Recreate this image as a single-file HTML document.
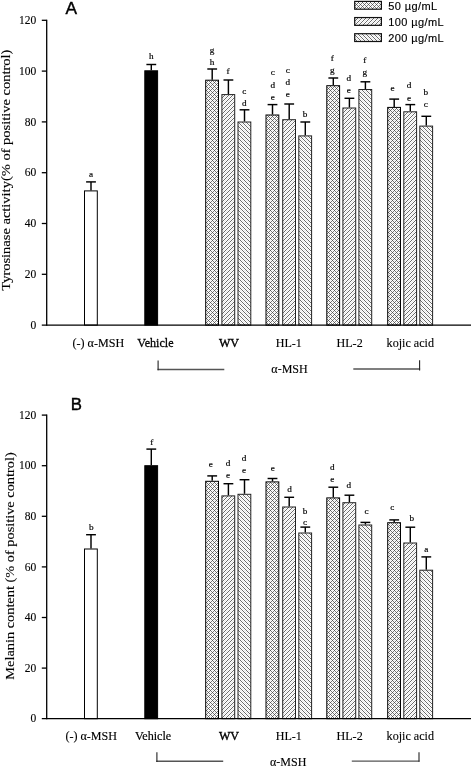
<!DOCTYPE html>
<html><head><meta charset="utf-8"><title>Figure</title>
<style>html,body{margin:0;padding:0;background:#fff}svg{display:block;will-change:transform}.s{font-family:"Liberation Serif", serif;fill:#000;stroke:#000;stroke-width:0.12px}.n{font-family:"Liberation Sans", sans-serif;fill:#000;stroke:#000;stroke-width:0.15px}</style></head><body>
<svg width="471" height="767" viewBox="0 0 471 767">
<defs>
<pattern id="pf" width="4" height="4" patternUnits="userSpaceOnUse"><path d="M3.00,-1 L-1,3.00 M7.00,-1 L-1,7.00" stroke="#d6d6d6" stroke-width="0.6" fill="none"/><path d="M1.00,-1 L-1,1.00 M5.00,-1 L-1,5.00 M9.00,-1 L-1,9.00" stroke="#585858" stroke-width="0.88" fill="none"/></pattern>
<pattern id="pb" width="4" height="4" patternUnits="userSpaceOnUse"><path d="M-1,1.00 L5.00,7.00 M-1,-3.00 L5.00,3.00" stroke="#d6d6d6" stroke-width="0.6" fill="none"/><path d="M-1,-1.00 L5.00,5.00 M-1,3.00 L5.00,9.00 M-1,-5.00 L5.00,1.00" stroke="#585858" stroke-width="0.88" fill="none"/></pattern>
<pattern id="px" width="4" height="4" patternUnits="userSpaceOnUse"><path d="M4.00,-1 L-1,4.00 M8.00,-1 L-1,8.00 M-1,1.00 L5.00,7.00 M-1,-3.00 L5.00,3.00" stroke="#e6e6e6" stroke-width="0.65" fill="none"/><path d="M2.00,-1 L-1,2.00 M6.00,-1 L-1,6.00 M-1,-1.00 L5.00,5.00 M-1,3.00 L5.00,9.00 M-1,-5.00 L5.00,1.00" stroke="#3a3a3a" stroke-width="0.65" fill="none"/></pattern>
</defs>
<rect width="471" height="767" fill="#fff"/>
<text x="65.6" y="14" font-size="17.3" class="n" style="stroke-width:0.4px">A</text>
<text x="70.8" y="410" font-size="16.8" class="n" style="stroke-width:0.4px">B</text>
<rect x="354.7" y="1.40" width="26.7" height="7.8" fill="url(#px)" stroke="#111" stroke-width="1.2"/>
<text x="388.3" y="10.20" font-size="11" letter-spacing="0.4" class="n">50 µg/mL</text>
<rect x="354.7" y="17.55" width="26.7" height="7.8" fill="url(#pf)" stroke="#111" stroke-width="1.2"/>
<text x="388.3" y="26.30" font-size="11" letter-spacing="0.4" class="n">100 µg/mL</text>
<rect x="354.7" y="33.70" width="26.7" height="7.8" fill="url(#pb)" stroke="#111" stroke-width="1.2"/>
<text x="388.3" y="42.40" font-size="11" letter-spacing="0.4" class="n">200 µg/mL</text>
<line x1="91.00" y1="181.90" x2="91.00" y2="190.40" stroke="#000" stroke-width="1.45"/>
<line x1="86.10" y1="181.90" x2="95.90" y2="181.90" stroke="#000" stroke-width="1.45"/>
<rect x="84.50" y="190.90" width="12.80" height="134.20" fill="#fff" stroke="#000" stroke-width="1"/>
<text x="91.00" y="177.20" font-size="9.2" text-anchor="middle" class="s" style="stroke-width:0.18px">a</text>
<line x1="151.30" y1="64.50" x2="151.30" y2="70.30" stroke="#000" stroke-width="1.45"/>
<line x1="146.40" y1="64.50" x2="156.20" y2="64.50" stroke="#000" stroke-width="1.45"/>
<rect x="144.80" y="70.80" width="12.80" height="254.30" fill="#000" stroke="#000" stroke-width="1"/>
<text x="151.30" y="58.90" font-size="9.2" text-anchor="middle" class="s" style="stroke-width:0.18px">h</text>
<line x1="212.20" y1="69.00" x2="212.20" y2="79.70" stroke="#000" stroke-width="1.45"/>
<line x1="207.30" y1="69.00" x2="217.10" y2="69.00" stroke="#000" stroke-width="1.45"/>
<rect x="205.70" y="80.20" width="12.80" height="244.90" fill="#fff"/>
<rect x="205.70" y="80.20" width="12.80" height="244.90" fill="url(#px)" stroke="#000" stroke-width="1"/>
<text x="212.00" y="52.90" font-size="9.2" text-anchor="middle" class="s" style="stroke-width:0.18px">g</text>
<text x="212.00" y="64.50" font-size="9.2" text-anchor="middle" class="s" style="stroke-width:0.18px">h</text>
<line x1="228.40" y1="80.00" x2="228.40" y2="94.10" stroke="#000" stroke-width="1.45"/>
<line x1="223.50" y1="80.00" x2="233.30" y2="80.00" stroke="#000" stroke-width="1.45"/>
<rect x="221.90" y="94.60" width="12.80" height="230.50" fill="#fff"/>
<rect x="221.90" y="94.60" width="12.80" height="230.50" fill="url(#pf)" stroke="#222" stroke-width="1"/>
<text x="228.00" y="73.80" font-size="9.2" text-anchor="middle" class="s" style="stroke-width:0.18px">f</text>
<line x1="244.50" y1="109.80" x2="244.50" y2="121.50" stroke="#000" stroke-width="1.45"/>
<line x1="239.60" y1="109.80" x2="249.40" y2="109.80" stroke="#000" stroke-width="1.45"/>
<rect x="238.00" y="122.00" width="12.80" height="203.10" fill="#fff"/>
<rect x="238.00" y="122.00" width="12.80" height="203.10" fill="url(#pb)" stroke="#222" stroke-width="1"/>
<text x="244.30" y="93.50" font-size="9.2" text-anchor="middle" class="s" style="stroke-width:0.18px">c</text>
<text x="244.30" y="105.60" font-size="9.2" text-anchor="middle" class="s" style="stroke-width:0.18px">d</text>
<line x1="272.50" y1="104.60" x2="272.50" y2="114.50" stroke="#000" stroke-width="1.45"/>
<line x1="267.60" y1="104.60" x2="277.40" y2="104.60" stroke="#000" stroke-width="1.45"/>
<rect x="266.00" y="115.00" width="12.80" height="210.10" fill="#fff"/>
<rect x="266.00" y="115.00" width="12.80" height="210.10" fill="url(#px)" stroke="#000" stroke-width="1"/>
<text x="272.80" y="75.30" font-size="9.2" text-anchor="middle" class="s" style="stroke-width:0.18px">c</text>
<text x="272.80" y="87.80" font-size="9.2" text-anchor="middle" class="s" style="stroke-width:0.18px">d</text>
<text x="272.80" y="99.50" font-size="9.2" text-anchor="middle" class="s" style="stroke-width:0.18px">e</text>
<line x1="289.20" y1="104.00" x2="289.20" y2="119.20" stroke="#000" stroke-width="1.45"/>
<line x1="284.30" y1="104.00" x2="294.10" y2="104.00" stroke="#000" stroke-width="1.45"/>
<rect x="282.70" y="119.70" width="12.80" height="205.40" fill="#fff"/>
<rect x="282.70" y="119.70" width="12.80" height="205.40" fill="url(#pf)" stroke="#222" stroke-width="1"/>
<text x="287.90" y="72.70" font-size="9.2" text-anchor="middle" class="s" style="stroke-width:0.18px">c</text>
<text x="287.90" y="84.80" font-size="9.2" text-anchor="middle" class="s" style="stroke-width:0.18px">d</text>
<text x="287.90" y="96.90" font-size="9.2" text-anchor="middle" class="s" style="stroke-width:0.18px">e</text>
<line x1="305.30" y1="122.00" x2="305.30" y2="135.40" stroke="#000" stroke-width="1.45"/>
<line x1="300.40" y1="122.00" x2="310.20" y2="122.00" stroke="#000" stroke-width="1.45"/>
<rect x="298.80" y="135.90" width="12.80" height="189.20" fill="#fff"/>
<rect x="298.80" y="135.90" width="12.80" height="189.20" fill="url(#pb)" stroke="#222" stroke-width="1"/>
<text x="305.00" y="117.00" font-size="9.2" text-anchor="middle" class="s" style="stroke-width:0.18px">b</text>
<line x1="333.30" y1="78.00" x2="333.30" y2="85.20" stroke="#000" stroke-width="1.45"/>
<line x1="328.40" y1="78.00" x2="338.20" y2="78.00" stroke="#000" stroke-width="1.45"/>
<rect x="326.80" y="85.70" width="12.80" height="239.40" fill="#fff"/>
<rect x="326.80" y="85.70" width="12.80" height="239.40" fill="url(#px)" stroke="#000" stroke-width="1"/>
<text x="332.20" y="61.40" font-size="9.2" text-anchor="middle" class="s" style="stroke-width:0.18px">f</text>
<text x="332.20" y="72.80" font-size="9.2" text-anchor="middle" class="s" style="stroke-width:0.18px">g</text>
<line x1="349.40" y1="98.30" x2="349.40" y2="107.50" stroke="#000" stroke-width="1.45"/>
<line x1="344.50" y1="98.30" x2="354.30" y2="98.30" stroke="#000" stroke-width="1.45"/>
<rect x="342.90" y="108.00" width="12.80" height="217.10" fill="#fff"/>
<rect x="342.90" y="108.00" width="12.80" height="217.10" fill="url(#pf)" stroke="#222" stroke-width="1"/>
<text x="348.80" y="80.80" font-size="9.2" text-anchor="middle" class="s" style="stroke-width:0.18px">d</text>
<text x="348.80" y="92.60" font-size="9.2" text-anchor="middle" class="s" style="stroke-width:0.18px">e</text>
<line x1="365.40" y1="81.80" x2="365.40" y2="89.00" stroke="#000" stroke-width="1.45"/>
<line x1="360.50" y1="81.80" x2="370.30" y2="81.80" stroke="#000" stroke-width="1.45"/>
<rect x="358.90" y="89.50" width="12.80" height="235.60" fill="#fff"/>
<rect x="358.90" y="89.50" width="12.80" height="235.60" fill="url(#pb)" stroke="#222" stroke-width="1"/>
<text x="364.70" y="63.30" font-size="9.2" text-anchor="middle" class="s" style="stroke-width:0.18px">f</text>
<text x="364.70" y="75.00" font-size="9.2" text-anchor="middle" class="s" style="stroke-width:0.18px">g</text>
<line x1="394.20" y1="99.10" x2="394.20" y2="106.90" stroke="#000" stroke-width="1.45"/>
<line x1="389.30" y1="99.10" x2="399.10" y2="99.10" stroke="#000" stroke-width="1.45"/>
<rect x="387.70" y="107.40" width="12.80" height="217.70" fill="#fff"/>
<rect x="387.70" y="107.40" width="12.80" height="217.70" fill="url(#px)" stroke="#000" stroke-width="1"/>
<text x="392.60" y="91.20" font-size="9.2" text-anchor="middle" class="s" style="stroke-width:0.18px">e</text>
<line x1="410.30" y1="104.60" x2="410.30" y2="111.30" stroke="#000" stroke-width="1.45"/>
<line x1="405.40" y1="104.60" x2="415.20" y2="104.60" stroke="#000" stroke-width="1.45"/>
<rect x="403.80" y="111.80" width="12.80" height="213.30" fill="#fff"/>
<rect x="403.80" y="111.80" width="12.80" height="213.30" fill="url(#pf)" stroke="#222" stroke-width="1"/>
<text x="409.00" y="88.30" font-size="9.2" text-anchor="middle" class="s" style="stroke-width:0.18px">d</text>
<text x="409.00" y="100.50" font-size="9.2" text-anchor="middle" class="s" style="stroke-width:0.18px">e</text>
<line x1="426.30" y1="116.30" x2="426.30" y2="125.60" stroke="#000" stroke-width="1.45"/>
<line x1="421.40" y1="116.30" x2="431.20" y2="116.30" stroke="#000" stroke-width="1.45"/>
<rect x="419.80" y="126.10" width="12.80" height="199.00" fill="#fff"/>
<rect x="419.80" y="126.10" width="12.80" height="199.00" fill="url(#pb)" stroke="#222" stroke-width="1"/>
<text x="425.70" y="95.00" font-size="9.2" text-anchor="middle" class="s" style="stroke-width:0.18px">b</text>
<text x="425.70" y="107.10" font-size="9.2" text-anchor="middle" class="s" style="stroke-width:0.18px">c</text>
<line x1="46.7" y1="19.65" x2="46.7" y2="325.75" stroke="#000" stroke-width="1.3"/>
<line x1="41.8" y1="325.10" x2="471" y2="325.10" stroke="#000" stroke-width="1.3"/>
<text x="36.3" y="328.80" font-size="11.5" text-anchor="end" class="s">0</text>
<line x1="41.8" y1="274.30" x2="46.7" y2="274.30" stroke="#000" stroke-width="1.3"/>
<text x="36.3" y="278.00" font-size="11.5" text-anchor="end" class="s">20</text>
<line x1="41.8" y1="223.50" x2="46.7" y2="223.50" stroke="#000" stroke-width="1.3"/>
<text x="36.3" y="227.20" font-size="11.5" text-anchor="end" class="s">40</text>
<line x1="41.8" y1="172.70" x2="46.7" y2="172.70" stroke="#000" stroke-width="1.3"/>
<text x="36.3" y="176.40" font-size="11.5" text-anchor="end" class="s">60</text>
<line x1="41.8" y1="121.90" x2="46.7" y2="121.90" stroke="#000" stroke-width="1.3"/>
<text x="36.3" y="125.60" font-size="11.5" text-anchor="end" class="s">80</text>
<line x1="41.8" y1="71.10" x2="46.7" y2="71.10" stroke="#000" stroke-width="1.3"/>
<text x="36.3" y="74.80" font-size="11.5" text-anchor="end" class="s">100</text>
<line x1="41.8" y1="20.30" x2="46.7" y2="20.30" stroke="#000" stroke-width="1.3"/>
<text x="36.3" y="24.00" font-size="11.5" text-anchor="end" class="s">120</text>
<text transform="translate(9.5,290.7) rotate(-90)" font-size="12.9" textLength="241.1" lengthAdjust="spacingAndGlyphs" class="s">Tyrosinase activity(% of positive control)</text>
<text x="72.5" y="347.0" font-size="12.1" class="s">(-) α-MSH</text>
<text x="137.3" y="347.0" font-size="12.1" class="s" style="stroke-width:0.26px">Vehicle</text>
<text x="229" y="347.0" font-size="12.1" text-anchor="middle" class="s" style="stroke-width:0.38px">WV</text>
<text x="288.8" y="347.0" font-size="12.1" text-anchor="middle" class="s">HL-1</text>
<text x="349.6" y="347.0" font-size="12.1" text-anchor="middle" class="s">HL-2</text>
<text x="410.3" y="347.0" font-size="12.1" text-anchor="middle" class="s">kojic acid</text>
<text x="289.5" y="372.6" font-size="12" text-anchor="middle" class="s">α-MSH</text>
<path d="M157.5,369.5 H224.3" stroke="#555" stroke-width="1.4" fill="none"/><path d="M158.1,360.6 V370.2" stroke="#222" stroke-width="1.1" fill="none"/>
<path d="M353.3,369 H420.1" stroke="#555" stroke-width="1.4" fill="none"/><path d="M419.6,360.2 V370.4" stroke="#222" stroke-width="1.1" fill="none"/>
<line x1="91.00" y1="534.70" x2="91.00" y2="548.50" stroke="#000" stroke-width="1.45"/>
<line x1="86.10" y1="534.70" x2="95.90" y2="534.70" stroke="#000" stroke-width="1.45"/>
<rect x="84.50" y="549.00" width="12.80" height="169.70" fill="#fff" stroke="#000" stroke-width="1"/>
<text x="91.40" y="530.10" font-size="9.2" text-anchor="middle" class="s" style="stroke-width:0.18px">b</text>
<line x1="151.30" y1="449.10" x2="151.30" y2="465.20" stroke="#000" stroke-width="1.45"/>
<line x1="146.40" y1="449.10" x2="156.20" y2="449.10" stroke="#000" stroke-width="1.45"/>
<rect x="144.80" y="465.70" width="12.80" height="253.00" fill="#000" stroke="#000" stroke-width="1"/>
<text x="151.80" y="445.30" font-size="9.2" text-anchor="middle" class="s" style="stroke-width:0.18px">f</text>
<line x1="212.20" y1="475.90" x2="212.20" y2="480.80" stroke="#000" stroke-width="1.45"/>
<line x1="207.30" y1="475.90" x2="217.10" y2="475.90" stroke="#000" stroke-width="1.45"/>
<rect x="205.70" y="481.30" width="12.80" height="237.40" fill="#fff"/>
<rect x="205.70" y="481.30" width="12.80" height="237.40" fill="url(#px)" stroke="#000" stroke-width="1"/>
<text x="210.90" y="466.50" font-size="9.2" text-anchor="middle" class="s" style="stroke-width:0.18px">e</text>
<line x1="228.40" y1="483.70" x2="228.40" y2="495.40" stroke="#000" stroke-width="1.45"/>
<line x1="223.50" y1="483.70" x2="233.30" y2="483.70" stroke="#000" stroke-width="1.45"/>
<rect x="221.90" y="495.90" width="12.80" height="222.80" fill="#fff"/>
<rect x="221.90" y="495.90" width="12.80" height="222.80" fill="url(#pf)" stroke="#222" stroke-width="1"/>
<text x="228.10" y="465.50" font-size="9.2" text-anchor="middle" class="s" style="stroke-width:0.18px">d</text>
<text x="228.10" y="477.60" font-size="9.2" text-anchor="middle" class="s" style="stroke-width:0.18px">e</text>
<line x1="244.50" y1="479.70" x2="244.50" y2="493.80" stroke="#000" stroke-width="1.45"/>
<line x1="239.60" y1="479.70" x2="249.40" y2="479.70" stroke="#000" stroke-width="1.45"/>
<rect x="238.00" y="494.30" width="12.80" height="224.40" fill="#fff"/>
<rect x="238.00" y="494.30" width="12.80" height="224.40" fill="url(#pb)" stroke="#222" stroke-width="1"/>
<text x="244.00" y="460.60" font-size="9.2" text-anchor="middle" class="s" style="stroke-width:0.18px">d</text>
<text x="244.00" y="472.50" font-size="9.2" text-anchor="middle" class="s" style="stroke-width:0.18px">e</text>
<line x1="272.50" y1="478.50" x2="272.50" y2="481.40" stroke="#000" stroke-width="1.45"/>
<line x1="267.60" y1="478.50" x2="277.40" y2="478.50" stroke="#000" stroke-width="1.45"/>
<rect x="266.00" y="481.90" width="12.80" height="236.80" fill="#fff"/>
<rect x="266.00" y="481.90" width="12.80" height="236.80" fill="url(#px)" stroke="#000" stroke-width="1"/>
<text x="272.80" y="471.30" font-size="9.2" text-anchor="middle" class="s" style="stroke-width:0.18px">e</text>
<line x1="289.20" y1="497.30" x2="289.20" y2="506.50" stroke="#000" stroke-width="1.45"/>
<line x1="284.30" y1="497.30" x2="294.10" y2="497.30" stroke="#000" stroke-width="1.45"/>
<rect x="282.70" y="507.00" width="12.80" height="211.70" fill="#fff"/>
<rect x="282.70" y="507.00" width="12.80" height="211.70" fill="url(#pf)" stroke="#222" stroke-width="1"/>
<text x="289.60" y="491.60" font-size="9.2" text-anchor="middle" class="s" style="stroke-width:0.18px">d</text>
<line x1="305.30" y1="527.10" x2="305.30" y2="532.50" stroke="#000" stroke-width="1.45"/>
<line x1="300.40" y1="527.10" x2="310.20" y2="527.10" stroke="#000" stroke-width="1.45"/>
<rect x="298.80" y="533.00" width="12.80" height="185.70" fill="#fff"/>
<rect x="298.80" y="533.00" width="12.80" height="185.70" fill="url(#pb)" stroke="#222" stroke-width="1"/>
<text x="305.00" y="513.50" font-size="9.2" text-anchor="middle" class="s" style="stroke-width:0.18px">b</text>
<text x="305.00" y="525.30" font-size="9.2" text-anchor="middle" class="s" style="stroke-width:0.18px">c</text>
<line x1="333.30" y1="487.20" x2="333.30" y2="497.40" stroke="#000" stroke-width="1.45"/>
<line x1="328.40" y1="487.20" x2="338.20" y2="487.20" stroke="#000" stroke-width="1.45"/>
<rect x="326.80" y="497.90" width="12.80" height="220.80" fill="#fff"/>
<rect x="326.80" y="497.90" width="12.80" height="220.80" fill="url(#px)" stroke="#000" stroke-width="1"/>
<text x="332.20" y="469.70" font-size="9.2" text-anchor="middle" class="s" style="stroke-width:0.18px">d</text>
<text x="332.20" y="481.60" font-size="9.2" text-anchor="middle" class="s" style="stroke-width:0.18px">e</text>
<line x1="349.40" y1="495.20" x2="349.40" y2="502.20" stroke="#000" stroke-width="1.45"/>
<line x1="344.50" y1="495.20" x2="354.30" y2="495.20" stroke="#000" stroke-width="1.45"/>
<rect x="342.90" y="502.70" width="12.80" height="216.00" fill="#fff"/>
<rect x="342.90" y="502.70" width="12.80" height="216.00" fill="url(#pf)" stroke="#222" stroke-width="1"/>
<text x="348.80" y="488.20" font-size="9.2" text-anchor="middle" class="s" style="stroke-width:0.18px">d</text>
<line x1="365.40" y1="522.40" x2="365.40" y2="524.50" stroke="#000" stroke-width="1.45"/>
<line x1="360.50" y1="522.40" x2="370.30" y2="522.40" stroke="#000" stroke-width="1.45"/>
<rect x="358.90" y="525.00" width="12.80" height="193.70" fill="#fff"/>
<rect x="358.90" y="525.00" width="12.80" height="193.70" fill="url(#pb)" stroke="#222" stroke-width="1"/>
<text x="366.60" y="514.30" font-size="9.2" text-anchor="middle" class="s" style="stroke-width:0.18px">c</text>
<line x1="394.20" y1="519.90" x2="394.20" y2="522.20" stroke="#000" stroke-width="1.45"/>
<line x1="389.30" y1="519.90" x2="399.10" y2="519.90" stroke="#000" stroke-width="1.45"/>
<rect x="387.70" y="522.70" width="12.80" height="196.00" fill="#fff"/>
<rect x="387.70" y="522.70" width="12.80" height="196.00" fill="url(#px)" stroke="#000" stroke-width="1"/>
<text x="392.20" y="509.50" font-size="9.2" text-anchor="middle" class="s" style="stroke-width:0.18px">c</text>
<line x1="410.30" y1="527.20" x2="410.30" y2="542.50" stroke="#000" stroke-width="1.45"/>
<line x1="405.40" y1="527.20" x2="415.20" y2="527.20" stroke="#000" stroke-width="1.45"/>
<rect x="403.80" y="543.00" width="12.80" height="175.70" fill="#fff"/>
<rect x="403.80" y="543.00" width="12.80" height="175.70" fill="url(#pf)" stroke="#222" stroke-width="1"/>
<text x="411.70" y="521.20" font-size="9.2" text-anchor="middle" class="s" style="stroke-width:0.18px">b</text>
<line x1="426.30" y1="556.90" x2="426.30" y2="569.70" stroke="#000" stroke-width="1.45"/>
<line x1="421.40" y1="556.90" x2="431.20" y2="556.90" stroke="#000" stroke-width="1.45"/>
<rect x="419.80" y="570.20" width="12.80" height="148.50" fill="#fff"/>
<rect x="419.80" y="570.20" width="12.80" height="148.50" fill="url(#pb)" stroke="#222" stroke-width="1"/>
<text x="426.20" y="552.40" font-size="9.2" text-anchor="middle" class="s" style="stroke-width:0.18px">a</text>
<line x1="46.7" y1="414.45" x2="46.7" y2="719.35" stroke="#000" stroke-width="1.3"/>
<line x1="41.8" y1="718.70" x2="471" y2="718.70" stroke="#000" stroke-width="1.3"/>
<text x="36.3" y="722.40" font-size="11.5" text-anchor="end" class="s">0</text>
<line x1="41.8" y1="668.10" x2="46.7" y2="668.10" stroke="#000" stroke-width="1.3"/>
<text x="36.3" y="671.80" font-size="11.5" text-anchor="end" class="s">20</text>
<line x1="41.8" y1="617.50" x2="46.7" y2="617.50" stroke="#000" stroke-width="1.3"/>
<text x="36.3" y="621.20" font-size="11.5" text-anchor="end" class="s">40</text>
<line x1="41.8" y1="566.90" x2="46.7" y2="566.90" stroke="#000" stroke-width="1.3"/>
<text x="36.3" y="570.60" font-size="11.5" text-anchor="end" class="s">60</text>
<line x1="41.8" y1="516.30" x2="46.7" y2="516.30" stroke="#000" stroke-width="1.3"/>
<text x="36.3" y="520.00" font-size="11.5" text-anchor="end" class="s">80</text>
<line x1="41.8" y1="465.70" x2="46.7" y2="465.70" stroke="#000" stroke-width="1.3"/>
<text x="36.3" y="469.40" font-size="11.5" text-anchor="end" class="s">100</text>
<line x1="41.8" y1="415.10" x2="46.7" y2="415.10" stroke="#000" stroke-width="1.3"/>
<text x="36.3" y="418.80" font-size="11.5" text-anchor="end" class="s">120</text>
<text transform="translate(13.7,679.7) rotate(-90)" font-size="12.9" textLength="227.4" lengthAdjust="spacingAndGlyphs" class="s">Melanin content (% of positive control)</text>
<text x="65.4" y="740.3" font-size="12.1" class="s">(-) α-MSH</text>
<text x="134.9" y="739.8" font-size="12.1" class="s" style="stroke-width:0.2px">Vehicle</text>
<text x="229" y="739.7" font-size="12.1" text-anchor="middle" class="s" style="stroke-width:0.38px">WV</text>
<text x="288.8" y="739.7" font-size="12.1" text-anchor="middle" class="s">HL-1</text>
<text x="349.6" y="739.7" font-size="12.1" text-anchor="middle" class="s">HL-2</text>
<text x="410.3" y="739.7" font-size="12.1" text-anchor="middle" class="s">kojic acid</text>
<text x="288.2" y="765.5" font-size="12" text-anchor="middle" class="s">α-MSH</text>
<path d="M156.3,761.3 H223.2" stroke="#555" stroke-width="1.4" fill="none"/><path d="M156.9,752.2 V762" stroke="#222" stroke-width="1.1" fill="none"/>
<path d="M351.8,761.1 H419.5" stroke="#555" stroke-width="1.4" fill="none"/><path d="M419,752.2 V761.8" stroke="#222" stroke-width="1.1" fill="none"/>
</svg></body></html>
